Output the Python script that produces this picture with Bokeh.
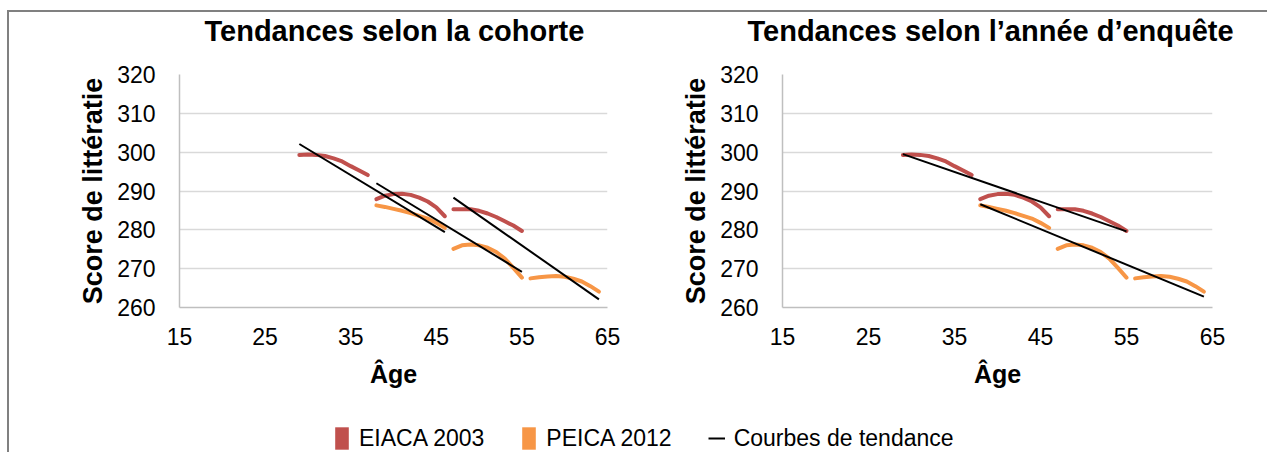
from bokeh.plotting import figure
from bokeh.models import Range1d, FixedTicker, Legend, LegendItem, Title
from bokeh.layouts import column, row
from bokeh.embed import file_html
from bokeh.resources import INLINE

# ---------------- data ----------------
x_ticks = [15, 25, 35, 45, 55, 65]
y_ticks = [260, 270, 280, 290, 300, 310, 320]

ages_seg1 = [29, 30, 31, 32, 33, 34, 35, 36, 37]
ages_seg2 = [38, 39, 40, 41, 42, 43, 44, 45, 46]
ages_seg3 = [47, 48, 49, 50, 51, 52, 53, 54, 55]
ages_seg4 = [56, 57, 58, 59, 60, 61, 62, 63, 64]

eiaca_2003_seg1 = [299.3, 299.4, 299.3, 299.0, 298.4, 297.6, 296.4, 295.3, 294.1]
eiaca_2003_seg2 = [287.9, 288.8, 289.2, 289.3, 289.0, 288.3, 287.3, 285.8, 283.5]
eiaca_2003_seg3 = [285.3, 285.3, 285.3, 284.9, 284.2, 283.3, 282.2, 281.1, 279.7]

peica_2012_seg1 = [286.3, 285.9, 285.4, 284.9, 284.3, 283.6, 282.9, 281.8, 280.5]
peica_2012_seg2 = [275.1, 276.0, 276.2, 276.0, 275.4, 274.3, 272.6, 270.2, 267.7]
peica_2012_seg3 = [267.5, 267.8, 268.0, 268.1, 267.9, 267.4, 266.7, 265.5, 264.1]

cohort_trend_ages = [[29, 46], [38, 55], [47, 64]]
cohort_trend_vals = [[302.1, 279.4], [292.0, 269.2], [288.3, 262.1]]

survey_trend_ages = [[29, 55], [38, 64]]
survey_trend_vals = [[299.5, 279.6], [286.6, 262.8]]

titles = ["Tendances selon la cohorte", "Tendances selon l\u2019ann\u00e9e d\u2019enqu\u00eate"]
legend_labels = ["EIACA 2003", "PEICA 2012", "Courbes de tendance"]

RED = "#C0504D"
ORANGE = "#F79646"
FONT = "Liberation Sans"


def make_fig(title, width, mbl, mbr, title_offset):
    p = figure(width=width, height=395, x_range=Range1d(15, 65), y_range=Range1d(260, 320),
               output_backend="svg", toolbar_location=None,
               min_border_left=mbl, min_border_right=mbr, min_border_top=60, min_border_bottom=100)
    # spacer between frame and title, then the title itself
    p.add_layout(Title(text=" ", text_font_size="1px", standoff=25), "above")
    p.add_layout(Title(text=title, text_font=FONT, text_font_size="29px", text_font_style="bold",
                       text_color="black", align="left", offset=title_offset, standoff=0), "above")
    p.xaxis.ticker = FixedTicker(ticks=x_ticks)
    p.yaxis.ticker = FixedTicker(ticks=y_ticks)
    p.xaxis.axis_label = "\u00c2ge"
    p.yaxis.axis_label = "Score de litt\u00e9ratie"
    for ax in (p.xaxis, p.yaxis):
        ax.axis_label_text_font = FONT
        ax.axis_label_text_font_style = "bold"
        ax.axis_label_text_color = "black"
        ax.major_label_text_font = FONT
        ax.major_label_text_font_size = "23px"
        ax.major_label_text_color = "black"
        ax.major_tick_line_color = None
        ax.minor_tick_line_color = None
        ax.axis_line_color = "#bfbfbf"
        ax.axis_line_width = 1.5
    p.xaxis.axis_label_text_font_size = "25px"
    p.yaxis.axis_label_text_font_size = "27px"
    p.xaxis.major_label_standoff = 14
    p.yaxis.major_label_standoff = 18
    p.xaxis.axis_label_standoff = 12
    p.yaxis.axis_label_standoff = 6
    p.xgrid.visible = False
    p.ygrid.grid_line_color = "#d9d9d9"
    p.ygrid.grid_line_width = 1.5
    p.outline_line_color = None
    for a, v in [(ages_seg1, eiaca_2003_seg1), (ages_seg2, eiaca_2003_seg2), (ages_seg3, eiaca_2003_seg3)]:
        p.line(a, v, line_color=RED, line_width=4, line_cap="round", line_join="round")
    for a, v in [(ages_seg2, peica_2012_seg1), (ages_seg3, peica_2012_seg2), (ages_seg4, peica_2012_seg3)]:
        p.line(a, v, line_color=ORANGE, line_width=4, line_cap="round", line_join="round")
    return p


p1 = make_fig(titles[0], 630, 170, 32, 25)
for a, v in zip(cohort_trend_ages, cohort_trend_vals):
    p1.line(a, v, line_color="black", line_width=2)

p2 = make_fig(titles[1], 628, 143, 55, -35)
for a, v in zip(survey_trend_ages, survey_trend_vals):
    p2.line(a, v, line_color="black", line_width=2)

p3 = figure(width=1258, height=45, x_range=Range1d(0, 1), y_range=Range1d(0, 1),
            output_backend="svg", toolbar_location=None, min_border=0,
            x_axis_location=None, y_axis_location=None)
p3.grid.visible = False
p3.outline_line_color = None
# legend-only renderers placed outside the visible range
r1 = p3.quad(left=[-3], right=[-2], bottom=[-3], top=[-2], fill_color=RED, line_color=None)
r2 = p3.quad(left=[-3], right=[-2], bottom=[-3], top=[-2], fill_color=ORANGE, line_color=None)
r3 = p3.line(x=[-3, -2], y=[-3, -2], line_color="black", line_width=2)
legend = Legend(items=[LegendItem(label=legend_labels[0], renderers=[r1]),
                       LegendItem(label=legend_labels[1], renderers=[r2]),
                       LegendItem(label=legend_labels[2], renderers=[r3])],
                orientation="horizontal", location=(324, 0),
                glyph_width=17, glyph_height=28, label_standoff=9, spacing=36,
                padding=0, margin=0, border_line_color=None, background_fill_alpha=0,
                label_text_font=FONT, label_text_font_size="23px", label_text_color="black")
p3.add_layout(legend)

layout = column(row(p1, p2), p3,
                styles={"border-top": "2px solid #808080", "border-left": "2px solid #808080",
                        "margin-top": "10px", "margin-left": "7px"})

open("out.html", "w").write(file_html(layout, INLINE))
